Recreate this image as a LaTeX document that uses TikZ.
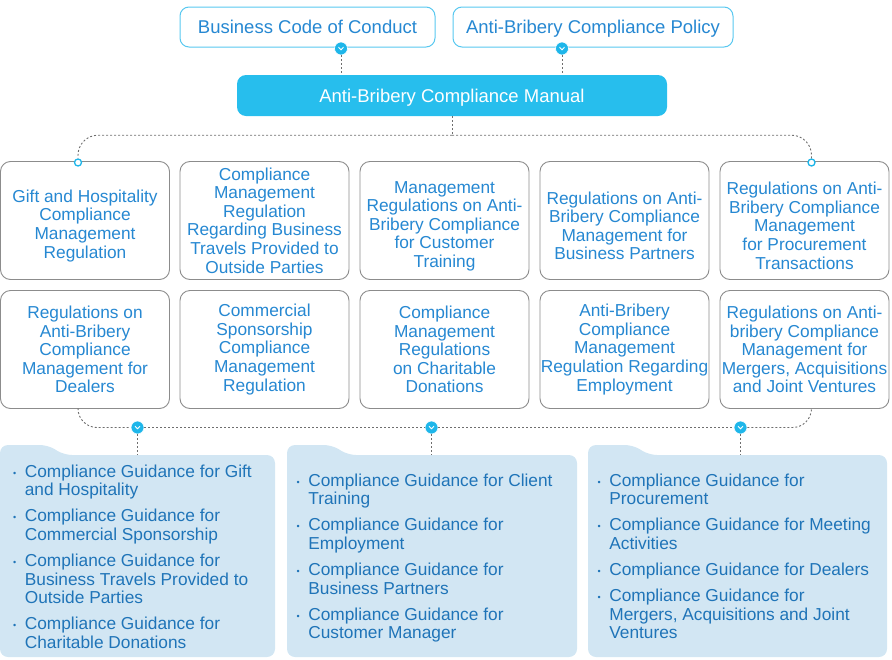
\documentclass[tikz,border=0pt]{standalone}
\usepackage{fontspec}
\setmainfont{Liberation Sans}
\usetikzlibrary{calc}
\definecolor{manualblue}{RGB}{39,190,237}
\definecolor{dotblue}{RGB}{30,182,234}
\definecolor{lineblue}{RGB}{88,200,240}
\definecolor{textblue}{RGB}{38,136,210}
\definecolor{guideblue}{RGB}{31,116,184}
\definecolor{panelfill}{RGB}{210,230,243}
\definecolor{boxgray}{RGB}{140,140,140}
\definecolor{linkgray}{RGB}{110,110,110}
\newcommand{\gbul}{\raisebox{1.2pt}{\fontsize{9}{9}\selectfont\textbullet}}
\newcommand{\lowr}{\rule{0pt}{23pt}}

\begin{document}
\begin{tikzpicture}[x=1pt,y=-1pt,
  source/.style={draw=lineblue,line width=1pt,fill=white,rounded corners=9pt,minimum height=40pt,text height=13.5pt,text depth=0.5pt,text=textblue,font=\fontsize{18.5}{20}\selectfont},
  manual/.style={fill=manualblue,rounded corners=9pt,minimum width=430pt,minimum height=41pt,text height=13.5pt,text depth=0.5pt,text=white,font=\fontsize{18.5}{20}\selectfont},
  rule/.style={draw=boxgray,line width=0.9pt,fill=white,rounded corners=10pt,minimum width=169pt,minimum height=118pt,inner xsep=0pt,align=center,text=textblue,font=\fontsize{17.3}{18.6}\selectfont},
  vdot/.style={circle,fill=dotblue,draw=white,line width=0.6pt,minimum size=13pt,inner sep=0pt,
    path picture={\draw[white,line width=0.9pt,line cap=round,line join=round]
      ($(path picture bounding box.center)+(-2.4pt,1.2pt)$) -- ($(path picture bounding box.center)+(0pt,-1.4pt)$) -- ($(path picture bounding box.center)+(2.4pt,1.2pt)$);}},
  ring/.style={circle,draw=dotblue,line width=1.3pt,fill=white,minimum size=7pt,inner sep=0pt},
  link/.style={draw=linkgray,line width=0.9pt,dash pattern=on 2pt off 2pt},
  panel/.style={fill=panelfill,rounded corners=8pt},
  guide/.style={anchor=north west,inner sep=0pt,text=guideblue,font=\fontsize{17.3}{18.6}\selectfont}]
\useasboundingbox (0,0) rectangle (892,659);

% top level
\node[source,minimum width=255pt] (code) at (307.5,27) {Business Code of Conduct};
\node[source,minimum width=280pt] (policy) at (593,27) {Anti-Bribery Compliance Policy};
\node[manual] (manual) at (452,95.5) {Anti-Bribery Compliance Manual};

% regulations
\node[rule] (r11) at (85,220.5) {\lowr Gift and Hospitality\\Compliance\\Management\\Regulation};
\node[rule] (r12) at (264.5,220.5) {Compliance\\Management\\Regulation\\Regarding Business\\Travels Provided to\\Outside Parties};
\node[rule] (r13) at (444.5,220.5) {\lowr Management\\Regulations on Anti-\\Bribery Compliance\\for Customer\\Training};
\node[rule] (r14) at (624.5,220.5) {\lowr Regulations on Anti-\\Bribery Compliance\\Management for\\Business Partners};
\node[rule] (r15) at (804.5,220.5) {\lowr Regulations on Anti-\\Bribery Compliance\\Management\\for Procurement\\Transactions};
\node[rule] (r21) at (85,349.5) {Regulations on\\Anti-Bribery\\Compliance\\Management for\\Dealers};
\node[rule] (r22) at (264.5,349.5) {Commercial\\Sponsorship\\Compliance\\Management\\Regulation};
\node[rule] (r23) at (444.5,349.5) {Compliance\\Management\\Regulations\\on Charitable\\Donations};
\node[rule] (r24) at (624.5,349.5) {Anti-Bribery\\Compliance\\Management\\Regulation Regarding\\Employment};
\node[rule] (r25) at (804.5,349.5) {Regulations on Anti-\\bribery Compliance\\Management for\\Mergers, Acquisitions\\and Joint Ventures};

% guidance panels
\fill[panel] (0,657) -- (0,445) -- (48,445) -- (64,455) -- (275,455) -- (275,657) -- cycle;
\fill[panel] (287,657) -- (287,445) -- (332,445) -- (348,455) -- (577,455) -- (577,657) -- cycle;
\fill[panel] (588,657) -- (588,445) -- (633,445) -- (649,455) -- (887,455) -- (887,657) -- cycle;
\coordinate (p1) at (137.5,455);
\coordinate (p2) at (431.5,455);
\coordinate (p3) at (740.5,455);

\node[guide] (g1) at (13,464) {\begin{tabular}{@{}l@{\hspace{8.5pt}}l@{}}
\gbul & Compliance Guidance for Gift\\
 & and Hospitality\\[7.5pt]
\gbul & Compliance Guidance for\\
 & Commercial Sponsorship\\[7.5pt]
\gbul & Compliance Guidance for\\
 & Business Travels Provided to\\
 & Outside Parties\\[7.5pt]
\gbul & Compliance Guidance for\\
 & Charitable Donations
\end{tabular}};
\node[guide] (g2) at (296.5,473) {\begin{tabular}{@{}l@{\hspace{8.5pt}}l@{}}
\gbul & Compliance Guidance for Client\\
 & Training\\[7.5pt]
\gbul & Compliance Guidance for\\
 & Employment\\[7.5pt]
\gbul & Compliance Guidance for\\
 & Business Partners\\[7.5pt]
\gbul & Compliance Guidance for\\
 & Customer Manager
\end{tabular}};
\node[guide] (g3) at (597.5,473) {\begin{tabular}{@{}l@{\hspace{8.5pt}}l@{}}
\gbul & Compliance Guidance for\\
 & Procurement\\[7.5pt]
\gbul & Compliance Guidance for Meeting\\
 & Activities\\[7.5pt]
\gbul & Compliance Guidance for Dealers\\[7.5pt]
\gbul & Compliance Guidance for\\
 & Mergers, Acquisitions and Joint\\
 & Ventures
\end{tabular}};

% markers
\node[vdot] (c1) at (341,48.5) {};
\node[vdot] (c2) at (562,48.5) {};
\node[ring] (t1) at (78,162.5) {};
\node[ring] (t2) at (811.5,162.5) {};
\node[vdot] (b1) at (137.5,427.5) {};
\node[vdot] (b2) at (431.5,427.5) {};
\node[vdot] (b3) at (740.5,427.5) {};

% connectors
\draw[link] (c1) -- (c1 |- manual.north);
\draw[link] (c2) -- (c2 |- manual.north);
\draw[link] (manual.south) -- ++(0,19) coordinate (hub);
\draw[link,rounded corners=20pt] (hub) -| (t1);
\draw[link,rounded corners=20pt] (hub) -| (t2);
\draw[link,rounded corners=19pt] (t1 |- r21.south) |- (b1);
\draw[link] (b1) -- (b2);
\draw[link] (b2) -- (b3);
\draw[link,rounded corners=19pt] (b3) -| (t2 |- r25.south);
\draw[link] (b1) -- (p1);
\draw[link] (b2) -- (p2);
\draw[link] (b3) -- (p3);
\end{tikzpicture}
\end{document}
